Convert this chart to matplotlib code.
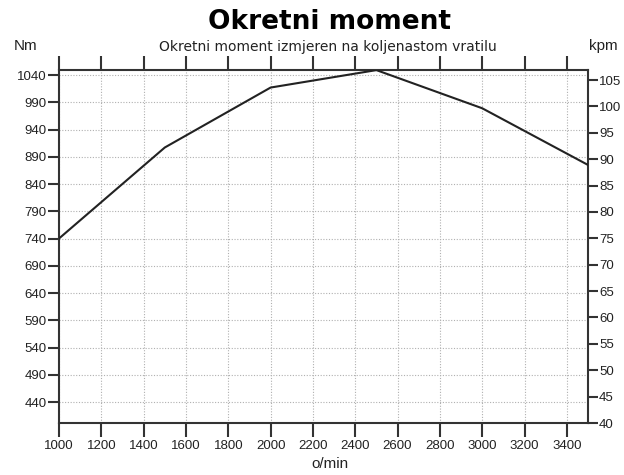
import numpy as np
import matplotlib
matplotlib.use('Agg')
from matplotlib import pyplot as plt

# podaci
rpm = [1000, 1500, 2000, 2500, 3000, 3500]
torque_nm = [740, 907, 1017, 1049, 979, 875]

x_ticks = list(range(1000, 3401, 200))
nm_ticks = list(range(440, 1041, 50))
kpm_ticks = list(range(40, 106, 5))

plt.rcParams['font.family'] = ['Liberation Sans', 'DejaVu Sans']

fig = plt.figure(figsize=(6.24, 4.75), dpi=100)
ax = fig.add_axes([59 / 624, 52 / 475, 529 / 624, 353 / 475])

ax.plot(rpm, torque_nm, color='#222222', lw=1.5, zorder=3)

ax.set_xlim(1000, 3500)
ax.set_ylim(401.5, 1049.2)
ax.set_xticks(x_ticks)
ax.set_yticks(nm_ticks)
ax.grid(True, color='#b0b0b0', linestyle=(0, (1, 1.5)), lw=0.8)

ax.tick_params(axis='x', direction='out', length=10, width=1.5, color='#333333',
               top=True, labelsize=9.5, labelcolor='#222222', pad=2)
ax.tick_params(axis='y', direction='out', length=8, width=1.5, color='#333333',
               labelsize=9.5, labelcolor='#222222', pad=1)
for sp in ax.spines.values():
    sp.set_color('#333333')
    sp.set_linewidth(1.5)

ax2 = ax.twinx()
ax2.set_ylim(40, 106.9)
ax2.set_yticks(kpm_ticks)
ax2.tick_params(axis='y', direction='out', length=7, width=1.5, color='#333333',
                labelsize=9.5, labelcolor='#222222', pad=1)
for sp in ax2.spines.values():
    sp.set_visible(False)

fig.text(330 / 624, 1 - 22 / 475, 'Okretni moment', ha='center', va='center',
         fontsize=19, fontweight='bold', family='DejaVu Sans')
fig.text(328 / 624, 1 - 47 / 475, 'Okretni moment izmjeren na koljenastom vratilu',
         ha='center', va='center', fontsize=10, family='DejaVu Sans', color='#222222')
fig.text(26 / 624, 1 - 46 / 475, 'Nm', ha='center', va='center', fontsize=11,
         color='#222222')
fig.text(603 / 624, 1 - 46 / 475, 'kpm', ha='center', va='center', fontsize=11,
         color='#222222')
fig.text(330 / 624, 1 - 464 / 475, 'o/min', ha='center', va='center', fontsize=11,
         color='#222222')

fig.savefig('out.png', dpi=100, facecolor='white')
